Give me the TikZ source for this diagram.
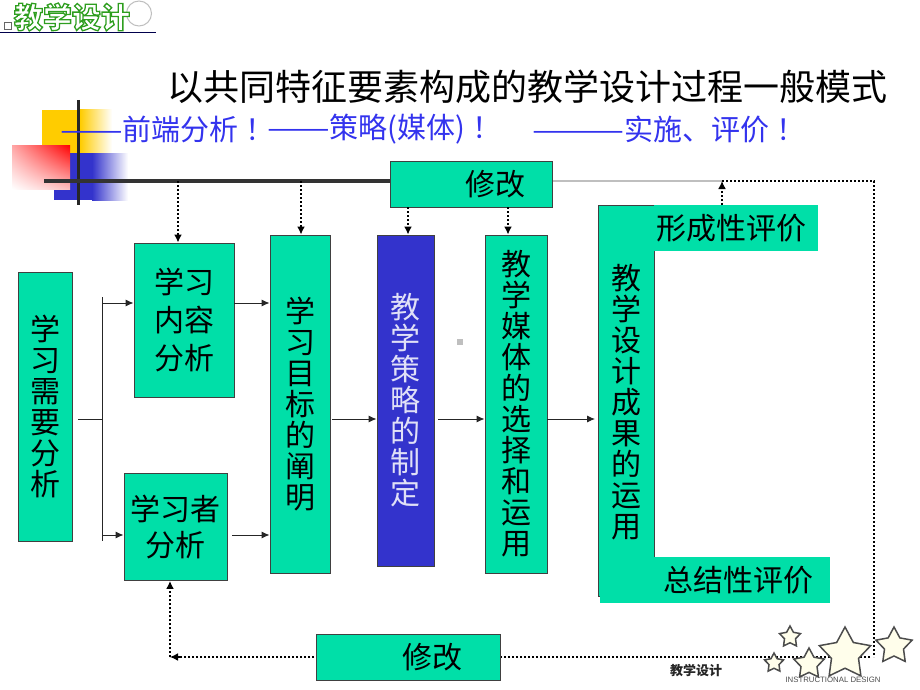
\documentclass[tikz,border=0pt]{standalone}
\usepackage{fontspec}
\usepackage{graphicx}
\setmainfont{Noto Sans CJK SC}
\newfontfamily\latinsans{Liberation Sans}
\usetikzlibrary{shapes.geometric,arrows.meta,shadings}
\definecolor{boxgreen}{HTML}{00DFA8}
\definecolor{boxblue}{HTML}{3333CC}
\definecolor{textblue}{HTML}{3333EE}
\definecolor{logogreen}{HTML}{2E9E1E}
\definecolor{decoyellow}{HTML}{FFCC00}
\newcommand{\longdash}[1]{\scalebox{1.29}[1]{#1}}
\newcommand{\outlinetext}[1]{\special{pdf:code q 2 Tr 1.3 w 0.18 0.62 0.12 RG 1 1 1 rg}#1\special{pdf:code Q}}
\tikzset{
  cjkbox/.style={fill=boxgreen,draw=black!75,line width=0.9pt,inner sep=0pt,align=center,text=black,font=\fontsize{30}{31}\selectfont},
  bluebox/.style={cjkbox,fill=boxblue,text=white!85!boxblue},
  plainbox/.style={fill=boxgreen,inner sep=0pt,align=center,text=black,font=\fontsize{30}{31}\selectfont},
  solidarrow/.style={line width=0.9pt,draw=black!85,-{Latex[length=8pt,width=7pt]}},
  solidline/.style={line width=0.9pt,draw=black!85},
  dotline/.style={line width=2pt,draw=black,dash pattern=on 2pt off 2pt},
  dotarrow/.style={dotline,-{Latex[length=8pt,width=8pt]}},
  deco/.style={shape=star,star points=5,star point ratio=1.9,draw=black!70,line width=1.5pt,fill=yellow!8,inner sep=0pt}
}
\begin{document}
\begin{tikzpicture}[x=1pt,y=-1pt]
\useasboundingbox (0,0) rectangle (920,690);
% decorative block
\shade[left color=decoyellow,right color=white] (80,110) rectangle (112,153);
\fill[decoyellow] (42,110) rectangle (80,153);
\shade[left color=boxblue,right color=white] (92,153) rectangle (128,200);
\fill[boxblue] (54,153) rectangle (92,200);
\shade[lower left=white,upper right=red,upper left=red!35,lower right=red!25] (12,145) rectangle (70,189);
\draw[line width=3pt,black!85] (78,100) -- (78,205);
% long lines
\coordinate (barL) at (44,181);
\coordinate (barM) at (390,181);
\coordinate (barR) at (722,181);
\coordinate (corner) at (874,181);
\coordinate (cornerB) at (874,657);
\coordinate (backEnd) at (170,657);
\draw[line width=3.5pt,black!80] (barL) -- (barM);
\draw[line width=2pt,black!25] (barM) -- (barR);
\draw[dotline] (barR) -- (corner) -- (cornerB);
\draw[dotline] (870,657) -- (backEnd);
% logo
\draw[line width=0.8pt,black!70!blue] (0,32.5) -- (156,32.5);
\draw[line width=1pt,black!25] (139,13.5) circle (12.5);
\draw[line width=0.8pt,black!60] (4,22) rectangle (11.5,29.5);
\node[font=\fontsize{29}{30}\bfseries\selectfont,inner sep=0pt] (logo) at (72,17) {\outlinetext{教学设计}};
% titles
\node[anchor=center,inner sep=0pt,font=\fontsize{36}{37}\selectfont,text=black] (title) at (527,87) {以共同特征要素构成的教学设计过程一般模式};
\node[anchor=west,inner sep=0pt,font=\fontsize{29}{30}\selectfont,text=textblue] (sub1) at (60,129) {\longdash{——}前端分析\hspace{7pt}！};
\node[anchor=west,inner sep=0pt,font=\fontsize{29}{30}\selectfont,text=textblue] (sub2) at (267,129) {\longdash{——}策略(媒体)\hspace{7pt}！};
\node[anchor=west,inner sep=0pt,font=\fontsize{29}{30}\selectfont,text=textblue] (sub3) at (532,129) {\longdash{———}实施、评价\hspace{7pt}！};
% boxes
\node[cjkbox,minimum width=54pt,minimum height=269pt] (need) at (45,406.5) {学\\习\\需\\要\\分\\析};
\node[cjkbox,minimum width=100pt,minimum height=154pt] (content) at (184,320) {学习\\[7pt]内容\\[7pt]分析};
\node[cjkbox,minimum width=103pt,minimum height=107pt] (learner) at (175.5,527) {学习者\\[5pt]分析};
\node[cjkbox,minimum width=60pt,minimum height=338pt] (goal) at (300,404) {学\\习\\目\\标\\的\\阐\\明};
\node[bluebox,minimum width=57pt,minimum height=331pt] (strategy) at (405.5,400.5) {教\\学\\策\\略\\的\\制\\定};
\node[cjkbox,minimum width=62pt,minimum height=338pt] (media) at (516,404) {教\\学\\媒\\体\\的\\选\\择\\和\\运\\用};
\node[cjkbox,minimum width=56pt,minimum height=391pt,text depth=0pt] (use) at (626,400.5) {教\\学\\设\\计\\成\\果\\的\\运\\用};
\node[plainbox,minimum width=164pt,minimum height=46pt] (form) at (736,228) {形成性评价\hspace*{10pt}};
\node[plainbox,minimum width=230pt,minimum height=46pt] (sum) at (715,580) {\hspace*{47pt}总结性评价};
\node[cjkbox,minimum width=162pt,minimum height=46pt] (fixtop) at (471,184) {\hspace*{48pt}修改};
\node[cjkbox,minimum width=184pt,minimum height=46pt] (fixbot) at (408,657) {\hspace*{48pt}修改};
% junction coordinates
\coordinate (stub) at (78,419);
\coordinate (busM) at (102,419);
\coordinate (busT) at (102,297);
\coordinate (busB) at (102,541);
\coordinate (busC) at (102,303);
\coordinate (busL) at (102,535);
\coordinate (cOut) at (234,303);
\coordinate (lOut) at (232,535);
\coordinate (gOut) at (332,419);
\coordinate (sOut) at (438,419);
\coordinate (mOut) at (547,419);
\coordinate (uIn) at (595,419);
\draw[solidline] (stub) -- (busM);
\draw[solidline] (busT) -- (busB);
\draw[solidarrow] (busC) -- (busC -| content.west);
\draw[solidarrow] (busL) -- (busL -| learner.west);
\draw[solidarrow] (cOut) -- (cOut -| goal.west);
\draw[solidarrow] (lOut) -- (lOut -| goal.west);
\draw[solidarrow] (gOut) -- (gOut -| strategy.west);
\draw[solidarrow] (sOut) -- (sOut -| media.west);
\draw[solidarrow] (mOut) -- (uIn);
% feedback
\coordinate (t1) at (178,181);
\coordinate (t2) at (301,181);
\coordinate (t3) at (408,207);
\coordinate (t4) at (508,207);
\coordinate (t5) at (722,205);
\draw[dotarrow] (t1) -- (t1 |- content.north);
\draw[dotarrow] (t2) -- (t2 |- goal.north);
\draw[dotarrow] (t3) -- (t3 |- strategy.north);
\draw[dotarrow] (t4) -- (t4 |- media.north);
\draw[dotarrow] (t5) -- (barR);
\draw[dotarrow] (backEnd) -- (backEnd |- learner.south);
\draw[dotarrow] (180,657) -- (backEnd);
% speck
\fill[black!25] (457,339) rectangle (463,345);
% stars
\node[deco,minimum size=22pt] (s1) at (790,637) {};
\node[deco,minimum size=20pt] (s2) at (774,663) {};
\node[deco,minimum size=32pt] (s3) at (809,664) {};
\node[deco,minimum size=54pt] (s4) at (845,654) {};
\node[deco,minimum size=38pt] (s5) at (894,646) {};
\node[inner sep=0pt,font=\fontsize{13}{14}\bfseries\selectfont,text=black!85] (foot) at (696,671) {教学设计};
\node[inner sep=0pt,font=\latinsans\fontsize{7.8}{9}\selectfont,text=black!70] (foot2) at (833,680) {INSTRUCTIONAL DESIGN};
\end{tikzpicture}
\end{document}
